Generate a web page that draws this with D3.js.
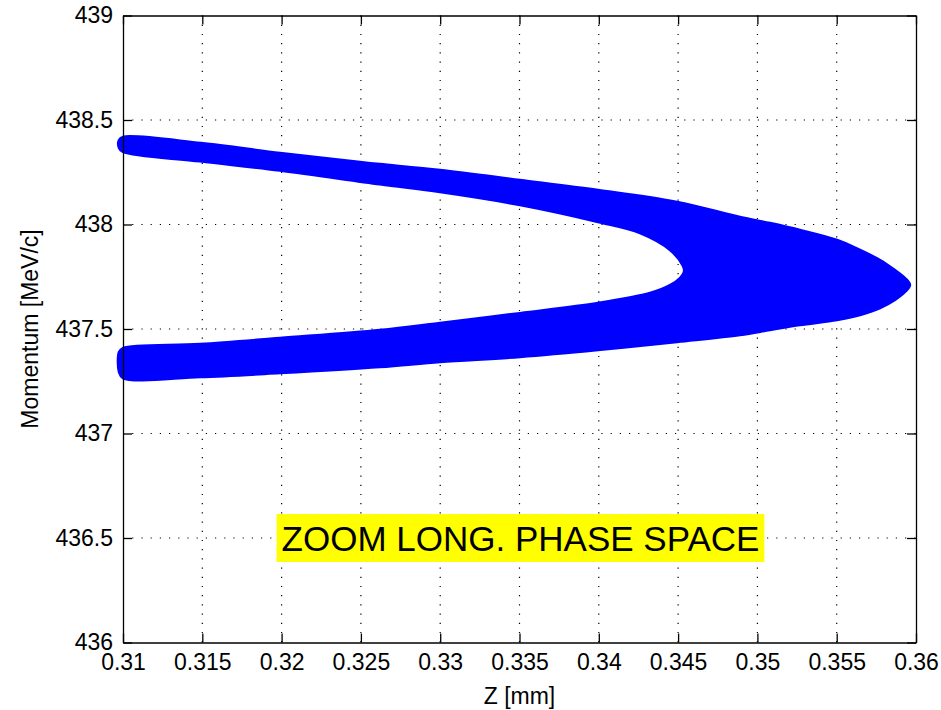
<!DOCTYPE html>
<html>
<head>
<meta charset="utf-8">
<script src="https://cdn.jsdelivr.net/npm/d3@7"></script>
<style>
body { margin: 0; background: #fff; }
text { font-family: "Liberation Sans", Arial, sans-serif; }
</style>
</head>
<body>
<script>
// outer edge of the bunch, upper side (left -> tip)
var upperOuterZ = [0.30975, 0.31, 0.31492, 0.3199, 0.32494, 0.3262, 0.32999, 0.33503, 0.33995, 0.34493, 0.3489, 0.35079, 0.35268, 0.35502, 0.35647, 0.35773, 0.35867, 0.35931, 0.35962];
var upperOuterP = [438.404, 438.419, 438.390, 438.342, 438.299, 438.289, 438.261, 438.213, 438.165, 438.108, 438.036, 438.007, 437.974, 437.926, 437.878, 437.830, 437.782, 437.744, 437.710];

// outer edge, lower side (left -> tip)
var lowerOuterZ = [0.30975, 0.31, 0.31486, 0.3199, 0.3262, 0.32999, 0.33503, 0.33995, 0.34493, 0.3489, 0.35079, 0.35268, 0.35502, 0.35647, 0.35773, 0.35867, 0.35931];
var lowerOuterP = [437.294, 437.265, 437.270, 437.289, 437.318, 437.342, 437.366, 437.399, 437.438, 437.471, 437.495, 437.519, 437.543, 437.567, 437.600, 437.639, 437.677];

// inner edge of the hook (lower-left -> inner tip -> upper-left)
var innerZ = [0.30975, 0.31, 0.31486, 0.3199, 0.3262, 0.32999, 0.33503, 0.33995, 0.34323, 0.34449, 0.34512, 0.34537, 0.34531, 0.34449, 0.3426, 0.33995, 0.33503, 0.32999, 0.3262, 0.3199, 0.31486, 0.31, 0.30975];
var innerP = [437.390, 437.409, 437.428, 437.457, 437.495, 437.529, 437.576, 437.624, 437.672, 437.710, 437.744, 437.773, 437.801, 437.878, 437.959, 438.012, 438.093, 438.155, 438.192, 438.258, 438.302, 438.347, 438.366];

var xTicks = [0.31, 0.315, 0.32, 0.325, 0.33, 0.335, 0.34, 0.345, 0.35, 0.355, 0.36];
var yTicks = [436, 436.5, 437, 437.5, 438, 438.5, 439];
var note = "ZOOM LONG. PHASE SPACE";

var w = 941;
var h = 710;
var padL = 123, padR = 916, padT = 15.5, padB = 642.5;

var svg = d3.select("body")
    .append("svg")
    .attr("width", w)
    .attr("height", h);

var xScale = d3.scaleLinear()
    .domain([0.31, 0.36])
    .range([padL, padR]);

var yScale = d3.scaleLinear()
    .domain([436, 439])
    .range([padB, padT]);

// dotted grid
svg.append("g")
    .selectAll("line")
    .data(xTicks.slice(1, -1))
    .enter()
    .append("line")
    .attr("x1", function(d) { return xScale(d); })
    .attr("x2", function(d) { return xScale(d); })
    .attr("y1", padT)
    .attr("y2", padB)
    .attr("stroke", "#000")
    .attr("stroke-width", 1.2)
    .attr("stroke-dasharray", "1.2,8");

svg.append("g")
    .selectAll("line")
    .data(yTicks.slice(1, -1))
    .enter()
    .append("line")
    .attr("y1", function(d) { return yScale(d); })
    .attr("y2", function(d) { return yScale(d); })
    .attr("x1", padL)
    .attr("x2", padR)
    .attr("stroke", "#000")
    .attr("stroke-width", 1.2)
    .attr("stroke-dasharray", "1.2,8");

// the bunch as one hook-shaped outline
var outline = [];
var i;
for (i = 0; i < upperOuterZ.length; i++) {
    outline.push([upperOuterZ[i], upperOuterP[i]]);
}
for (i = lowerOuterZ.length - 1; i >= 0; i--) {
    outline.push([lowerOuterZ[i], lowerOuterP[i]]);
}
for (i = 0; i < innerZ.length; i++) {
    outline.push([innerZ[i], innerP[i]]);
}

var line = d3.line()
    .x(function(d) { return xScale(d[0]); })
    .y(function(d) { return yScale(d[1]); })
    .curve(d3.curveCatmullRomClosed.alpha(0.5));

svg.append("path")
    .datum(outline)
    .attr("d", line)
    .attr("fill", "#0000ff")
    .attr("stroke", "#0000ff")
    .attr("stroke-width", 2.5)
    .attr("stroke-linejoin", "round");

// axes box with inward ticks
var fmt = function(d) { return String(d); };
var xBottom = d3.axisBottom(xScale).tickValues(xTicks).tickFormat(fmt).tickSizeInner(-9).tickSizeOuter(0).tickPadding(11);
var xTop = d3.axisTop(xScale).tickValues(xTicks).tickSizeInner(-9).tickSizeOuter(0).tickFormat("");
var yLeft = d3.axisLeft(yScale).tickValues(yTicks).tickFormat(fmt).tickSizeInner(-9).tickSizeOuter(0).tickPadding(10);
var yRight = d3.axisRight(yScale).tickValues(yTicks).tickSizeInner(-9).tickSizeOuter(0).tickFormat("");

function styleAxis(g) {
    g.selectAll("path, line").attr("stroke", "#000").attr("stroke-width", 1.3);
    g.selectAll("text")
        .attr("fill", "#000")
        .style("font-size", "23px")
        .style("font-family", "'Liberation Sans', Arial, sans-serif");
}

svg.append("g").attr("transform", "translate(0," + padB + ")").call(xBottom).call(styleAxis);
svg.append("g").attr("transform", "translate(0," + padT + ")").call(xTop).call(styleAxis);
svg.append("g").attr("transform", "translate(" + padL + ",0)").call(yLeft).call(styleAxis);
svg.append("g").attr("transform", "translate(" + padR + ",0)").call(yRight).call(styleAxis);

// axis titles
svg.append("text")
    .attr("x", (padL + padR) / 2)
    .attr("y", 704)
    .attr("text-anchor", "middle")
    .style("font-size", "23px")
    .text("Z [mm]");

svg.append("text")
    .attr("transform", "translate(38," + (padT + padB) / 2 + ") rotate(-90)")
    .attr("text-anchor", "middle")
    .style("font-size", "23px")
    .text("Momentum [MeV/c]");

// yellow note
var noteG = svg.append("g");
var noteText = noteG.append("text")
    .attr("x", xScale(0.32))
    .attr("y", yScale(436.5) + 12.5)
    .style("font-size", "35px")
    .attr("fill", "#000")
    .text(note);
var bb = noteText.node().getBBox();
noteG.insert("rect", "text")
    .attr("x", bb.x - 5)
    .attr("y", yScale(436.5) - 24)
    .attr("width", bb.width + 10)
    .attr("height", 48)
    .attr("fill", "#ffff00");
</script>
</body>
</html>
